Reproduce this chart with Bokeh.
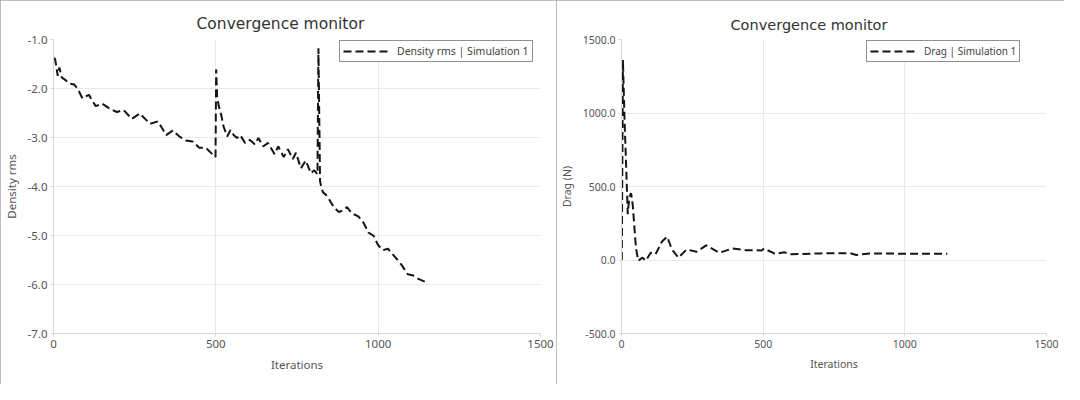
from bokeh.plotting import figure
from bokeh.layouts import row
from bokeh.models import FixedTicker, PrintfTickFormatter, Legend, LegendItem, Range1d
from bokeh.embed import file_html
from bokeh.resources import INLINE

# ---------------- data ----------------
density_iter = [1, 5, 13, 18, 25, 39, 49, 64, 74, 89, 109, 130, 150, 175, 195, 216, 241, 266,
                297, 322, 347, 367, 388, 408, 428, 449, 469, 489, 497, 499, 501, 504, 509, 516,
                524, 535, 545, 555, 565, 575, 590, 605, 620, 631, 646, 661, 681, 692, 709, 722,
                737, 747, 762, 777, 793, 803, 813, 816, 821, 825, 830, 838, 848, 863, 879, 894,
                904, 919, 939, 955, 970, 985, 1000, 1015, 1030, 1051, 1071, 1091, 1106, 1122, 1150]
density_rms = [-1.38, -1.40, -1.74, -1.57, -1.77, -1.84, -1.90, -1.92, -2.00, -2.20, -2.13, -2.36,
               -2.31, -2.42, -2.48, -2.44, -2.62, -2.51, -2.72, -2.67, -2.95, -2.86, -2.98, -3.06,
               -3.08, -3.21, -3.21, -3.34, -3.38, -3.40, -1.61, -2.16, -2.36, -2.52, -2.78, -2.98,
               -2.85, -2.95, -3.01, -2.95, -3.11, -3.05, -3.14, -3.01, -3.18, -3.11, -3.34, -3.18,
               -3.40, -3.24, -3.44, -3.31, -3.63, -3.47, -3.73, -3.67, -3.75, -1.18, -3.89, -4.02,
               -4.12, -4.16, -4.25, -4.42, -4.52, -4.48, -4.42, -4.55, -4.61, -4.74, -4.94, -5.00,
               -5.20, -5.30, -5.27, -5.43, -5.59, -5.79, -5.81, -5.88, -5.96]

drag_iter = [1, 5, 11, 17, 22, 28, 34, 40, 51, 59, 74, 86, 103, 120, 143, 161, 178, 201, 230,
             265, 299, 345, 391, 437, 495, 503, 541, 576, 599, 703, 806, 829, 876, 991, 1150]
drag_n = [0, 1361, 935, 607, 312, 432, 454, 367, 82, -5, 16, -5, 49, 39, 126, 159, 72, 16, 72,
          56, 100, 49, 78, 67, 65, 78, 43, 52, 39, 45, 47, 34, 45, 43, 43]

iter_ticks = [0, 500, 1000, 1500]
density_ticks = [-7, -6, -5, -4, -3, -2, -1]
drag_ticks = [-500, 0, 500, 1000, 1500]

TITLE = "Convergence monitor"
X_LABEL = "Iterations"
DENSITY_LABEL = "Density rms"
DRAG_LABEL = "Drag (N)"
DENSITY_LEGEND = "Density rms | Simulation 1"
DRAG_LEGEND = "Drag | Simulation 1"

FONT = "Noto Sans"
TITLE_FONT = "DejaVu Sans"
AXIS_GRAY = "#d6d6d6"
GRID_GRAY = "#e9e9e9"
TEXT_GRAY = "#555555"


def make_panel(xs, ys, yticks, yfmt, ylabel, legend_label, width, border_left, border_right,
               title_offset, title_size, tick_size, legend_loc, legend_size):
    p = figure(width=width, height=384, output_backend="svg", toolbar_location=None,
               x_range=Range1d(0, 1500), y_range=Range1d(min(yticks), max(yticks)),
               min_border_left=border_left, min_border_right=border_right,
               min_border_top=39, min_border_bottom=51,
               styles={"outline": "2px solid #a8a8a8", "outline-offset": "-2px"})
    p.outline_line_color = None
    p.background_fill_color = "white"
    p.border_fill_color = "white"

    p.title.text = TITLE
    p.title.align = "left"
    p.title.offset = title_offset
    p.title.standoff = 14
    p.title.text_font = TITLE_FONT
    p.title.text_font_size = f"{title_size}px"
    p.title.text_font_style = "normal"
    p.title.text_color = "#333333"

    p.xaxis.ticker = FixedTicker(ticks=iter_ticks)
    p.yaxis.ticker = FixedTicker(ticks=yticks)
    p.yaxis.formatter = PrintfTickFormatter(format=yfmt)
    p.xaxis.axis_label = X_LABEL
    p.yaxis.axis_label = ylabel
    for ax in (p.xaxis, p.yaxis):
        ax.axis_line_color = AXIS_GRAY
        ax.major_tick_line_color = AXIS_GRAY
        ax.major_tick_out = 3
        ax.major_tick_in = 0
        ax.minor_tick_line_color = None
        ax.major_label_text_font = FONT
        ax.major_label_text_font_size = f"{tick_size}px"
        ax.major_label_text_color = TEXT_GRAY
        ax.major_label_standoff = 3
        ax.axis_label_text_font = FONT
        ax.axis_label_text_font_size = f"{tick_size}px"
        ax.axis_label_text_font_style = "normal"
        ax.axis_label_text_color = TEXT_GRAY
        ax.axis_label_standoff = 6
    p.grid.grid_line_color = GRID_GRAY
    p.grid.grid_line_width = 1

    r = p.line(xs, ys, line_color="#151515", line_width=2, line_dash="8 4")

    legend = Legend(items=[LegendItem(label=legend_label, renderers=[r])], location=legend_loc)
    legend.border_line_color = "#222222"
    legend.border_line_width = 1
    legend.background_fill_color = "white"
    legend.background_fill_alpha = 1
    legend.padding = 3
    legend.margin = 0
    legend.glyph_width = 45
    legend.glyph_height = 14
    legend.label_standoff = 9
    legend.label_text_font = FONT
    legend.label_text_font_size = f"{legend_size}px"
    legend.label_text_color = "#444444"
    p.add_layout(legend)
    return p


p1 = make_panel(density_iter, density_rms, density_ticks, "%.1f", DENSITY_LABEL, DENSITY_LEGEND,
                width=556, border_left=53, border_right=16, title_offset=143, title_size=15.5,
                tick_size=11.5, legend_loc=(286, 271), legend_size=10.5)
p2 = make_panel(drag_iter, drag_n, drag_ticks, "%.1f", DRAG_LABEL, DRAG_LEGEND,
                width=508, border_left=63, border_right=18, title_offset=109, title_size=14.5,
                tick_size=10.5, legend_loc=(245, 271), legend_size=10)

layout = row(p1, p2, spacing=0)
open("out.html", "w").write(file_html(layout, INLINE))
